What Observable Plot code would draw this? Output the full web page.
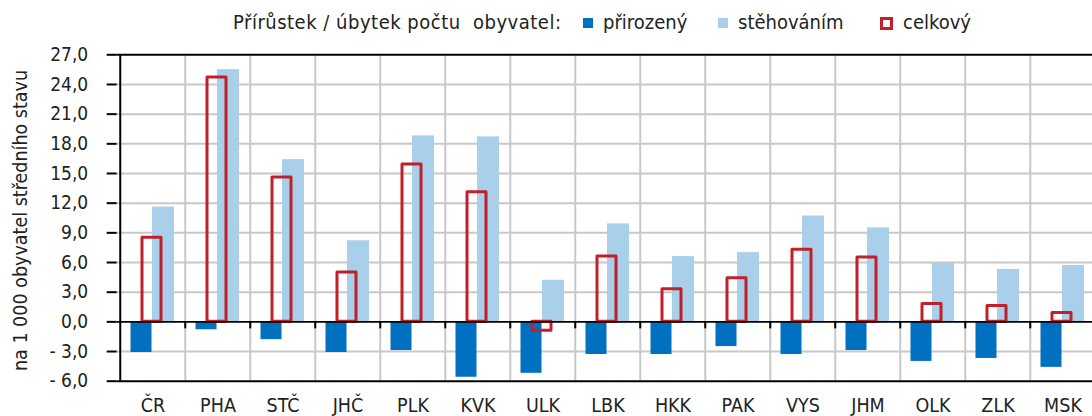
<!DOCTYPE html>
<html><head><meta charset="utf-8">
<script src="https://cdn.jsdelivr.net/npm/d3@7"></script>
<script src="https://cdn.jsdelivr.net/npm/@observablehq/plot@0.6"></script>
<style>
html,body{margin:0;padding:0;background:#fff;overflow:hidden;width:1092px;height:416px}
#legend{position:relative;height:40px;font-family:"DejaVu Sans Condensed","DejaVu Sans",sans-serif;font-size:20px;color:#222}
#legend .t{position:absolute;white-space:nowrap;top:12px;line-height:20px}
#legend .sw{position:absolute;box-sizing:border-box}
#chart svg{display:block}
</style>
</head><body>
<div id="legend"></div>
<div id="chart"></div>
<script>
const categories = ["ČR","PHA","STČ","JHČ","PLK","KVK","ULK","LBK","HKK","PAK","VYS","JHM","OLK","ZLK","MSK"];
const prirozeny  = [-3.1,-0.8,-1.8,-3.1,-2.9,-5.6,-5.2,-3.3,-3.3,-2.5,-3.3,-2.9,-4.0,-3.7,-4.6];
const stehovanim = [11.6,25.5,16.4,8.2,18.8,18.7,4.2,9.9,6.6,7.0,10.7,9.5,5.9,5.3,5.7];
const celkovy    = [8.5,24.7,14.6,5.0,15.9,13.1,-0.9,6.6,3.3,4.4,7.3,6.5,1.8,1.6,0.9];
const yTicks = [-6,-3,0,3,6,9,12,15,18,21,24,27];
const seriesNames = ["přirozený","stěhováním","celkový"];
const legendTitle = "Přírůstek / úbytek počtu  obyvatel:";
const yTitle = "na 1 000 obyvatel středního stavu";

const C_DARK = "#0070c0", C_LIGHT = "#a9cfea", C_RED = "#c0202a";
const FONT = '"DejaVu Sans Condensed","DejaVu Sans",sans-serif';

const rows = categories.map((c,i)=>({cat:c, p:prirozeny[i], s:stehovanim[i], c:celkovy[i]}));

// legend
const lg = document.getElementById("legend");
function addText(txt, left, extra){const s=document.createElement("span");s.className="t";s.textContent=txt;s.style.left=left+"px";if(extra)Object.assign(s.style,extra);lg.appendChild(s);}
function addSw(left, top, size, style){const d=document.createElement("div");d.className="sw";d.style.left=left+"px";d.style.top=top+"px";d.style.width=size+"px";d.style.height=size+"px";Object.assign(d.style,style);lg.appendChild(d);}
addText(legendTitle, 233, {letterSpacing:"0.5px", whiteSpace:"pre"});
addSw(583, 18, 10, {background:C_DARK});
addText(seriesNames[0], 603);
addSw(718, 18, 10, {background:C_LIGHT});
addText(seriesNames[1], 738);
addSw(880, 17, 13, {border:"3px solid "+C_RED, background:"#fff"});
addText(seriesNames[2], 903);

const x0 = 116.7, bw = 65.5, x1 = x0 + categories.length*bw;
const fmt = d => (d<0 ? "- " : "") + Math.abs(d).toFixed(1).replace(".", ",");

const chart = Plot.plot({
  width:1092, height:376,
  marginLeft:x0, marginRight:0, marginTop:14.3, marginBottom:35.3,
  style:{fontFamily:FONT, fontSize:"19px", color:"#222", background:"transparent"},
  x:{domain:categories, range:[x0,x1], padding:0, label:null},
  y:{domain:[-6,27], label:null},
  marks:[
    Plot.ruleY(yTicks.filter(t=>t!==0&&t!==-6&&t!==27), {stroke:"#c8c8c8", strokeWidth:2}),
    Plot.ruleX(categories.slice(1), {x:d=>d, y1:-6, y2:27, dx:-bw/2, stroke:"#c8c8c8", strokeWidth:2}),
    Plot.barY(rows, {x:"cat", y:"p", fill:C_DARK, insetLeft:10.5, insetRight:bw-32}),
    Plot.barY(rows, {x:"cat", y:"s", fill:C_LIGHT, insetLeft:32, insetRight:bw-54.5}),
    Plot.barY(rows, {x:"cat", y:"c", fill:"none", stroke:C_RED, strokeWidth:3, strokeLinejoin:"round", insetLeft:22, insetRight:bw-41.5}),
    Plot.ruleY([-6,27], {stroke:"#000", strokeWidth:2}),
    Plot.ruleY([0], {stroke:"#000", strokeWidth:1.6}),
    Plot.ruleX(categories.slice(1), {x:d=>d, y1:0, y2:0, insetBottom:-7, dx:-bw/2, stroke:"#000", strokeWidth:2}),
    Plot.ruleX([categories[0]], {x:d=>d, y1:-6, y2:27, dx:-bw/2, stroke:"#000", strokeWidth:2}),
    Plot.axisY({ticks:yTicks, tickFormat:fmt, tickSize:10, tickPadding:19, stroke:"#000", strokeWidth:2, fontSize:19, fill:"#222"}),
    Plot.axisX({tickSize:0, tickPadding:17, fontSize:19.5, fill:"#222", label:null}),
    Plot.text([yTitle], {text:d=>d, frameAnchor:"left", rotate:-90, dx:-96, dy:2.5, fontSize:19.5, fill:"#222", textAnchor:"middle", lineAnchor:"middle"})
  ]
});
document.getElementById("chart").appendChild(chart);
</script>
</body></html>
